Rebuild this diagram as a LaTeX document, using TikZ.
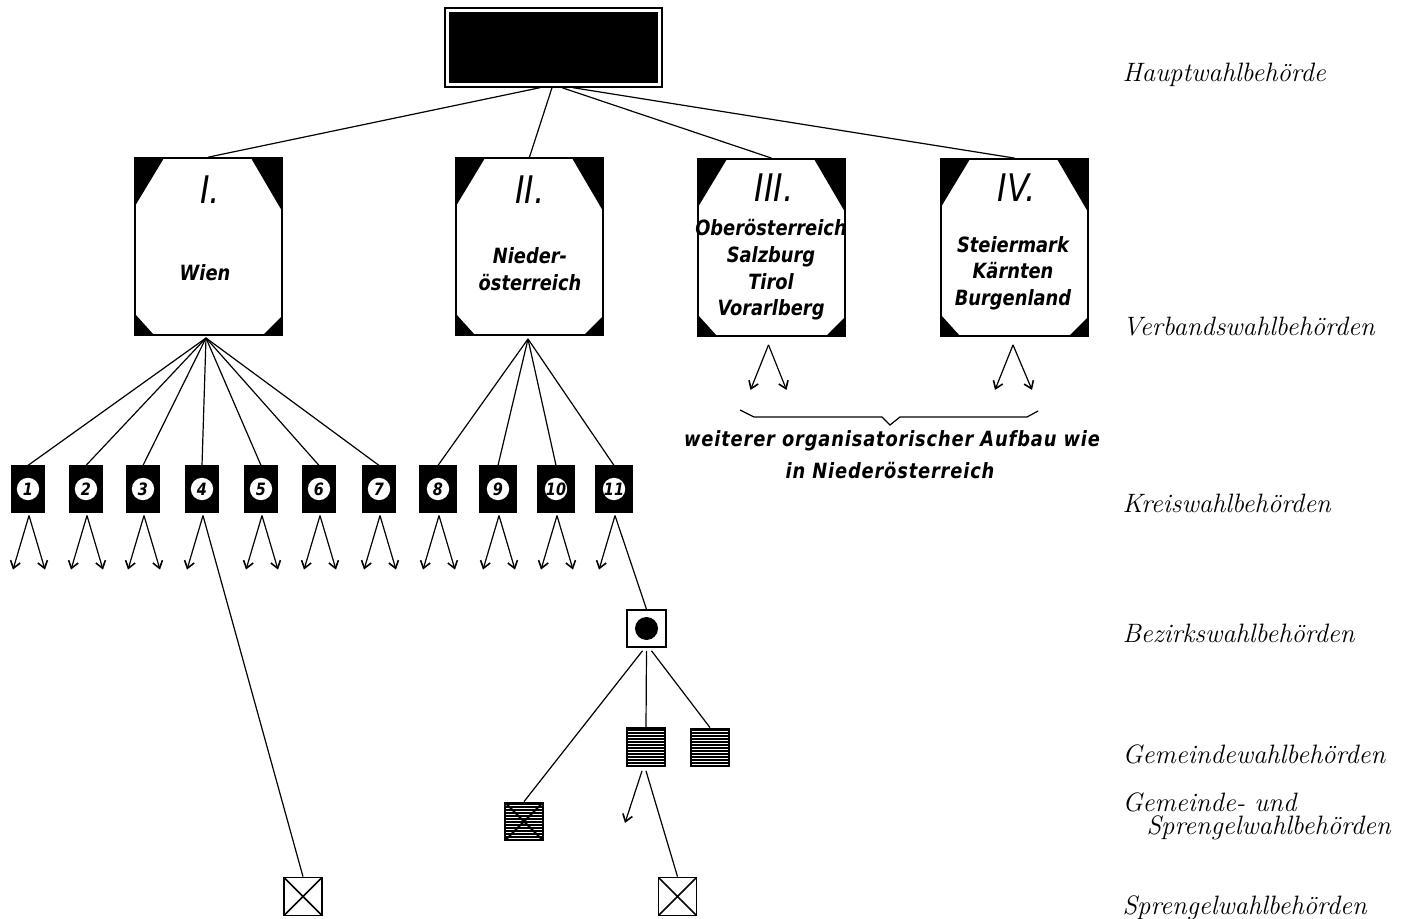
\documentclass[tikz,border=0pt]{standalone}
\usepackage{fontspec}
\usetikzlibrary{arrows.meta,calc}
\newfontfamily\hand[FakeStretch=0.85]{DejaVu Sans}
\tikzset{
  frame/.style={draw, line width=0.9pt, minimum width=73.5pt, minimum height=88.5pt, inner sep=0pt,
    path picture={
      \fill (path picture bounding box.north west) -- ++(29,0) -- ++(-29,48) -- cycle;
      \fill (path picture bounding box.north east) -- ++(-31,0) -- ++(31,53) -- cycle;
      \fill (path picture bounding box.south west) -- ++(19,0) -- ++(-19,-21) -- cycle;
      \fill (path picture bounding box.south east) -- ++(-19,0) -- ++(19,-19) -- cycle;
    }},
  topbox/.style={draw, line width=0.7pt, minimum width=108.5pt, minimum height=39.5pt, inner sep=0pt,
    path picture={
      \fill ([shift={(4,4)}]path picture bounding box.north west) rectangle ([shift={(-4,-4)}]path picture bounding box.south east);
    }},
  kreis/.style={fill=black, draw, minimum width=16pt, minimum height=23pt, inner sep=0pt,
    font=\hand\bfseries\itshape\fontsize{8.5}{9}\selectfont,
    path picture={\fill[white] (path picture bounding box.center) circle (5.6pt);}},
  kreisw/.style={kreis, minimum width=18pt},
  bezirk/.style={draw, line width=0.8pt, minimum width=19.5pt, minimum height=18.5pt, inner sep=0pt,
    path picture={\fill (path picture bounding box.center) circle (5.75pt);}},
  hatch/.style={draw, line width=0.9pt, minimum width=19pt, minimum height=19pt, inner sep=0pt,
    path picture={
      \foreach \yy in {1.5,4.5,...,40} \draw[line width=1pt] ($(path picture bounding box.north west)+(0,\yy)$) -- ++(60,0);
    }},
  crossbox/.style={draw, line width=0.9pt, minimum width=19pt, minimum height=19pt, inner sep=0pt,
    path picture={
      \draw[line width=0.8pt] (path picture bounding box.north west) -- (path picture bounding box.south east)
        (path picture bounding box.north east) -- (path picture bounding box.south west);
    }},
  hatchcross/.style={hatch, path picture={
      \foreach \yy in {1.5,4.5,...,40} \draw[line width=1pt] ($(path picture bounding box.north west)+(0,\yy)$) -- ++(60,0);
      \draw[line width=0.9pt] (path picture bounding box.north west) -- (path picture bounding box.south east)
        (path picture bounding box.north east) -- (path picture bounding box.south west);
    }},
  numf/.style={font=\hand\itshape\fontsize{19}{20}\selectfont, inner sep=0pt},
  hw/.style={font=\hand\bfseries\itshape\fontsize{10.5}{13.3}\selectfont, inner sep=0pt, align=center},
  hwsp/.style={hw, font=\hand\bfseries\itshape\fontsize{10.5}{13.3}\selectfont\addfontfeatures{LetterSpace=4}},
  lab/.style={anchor=west, inner sep=0pt, font=\fontsize{13.3}{16}\selectfont\itshape\addfontfeatures{FakeBold=0.4}, align=left},
  arr/.style={-{Straight Barb[length=3.5pt,width=5pt,line width=0.8pt]}},
}
\begin{document}
\begin{tikzpicture}[x=0.5pt,y=-0.5pt,line width=0.6pt]
\useasboundingbox (0,0) rectangle (1419,919);

% top
\node[topbox] (top) at (553.5,47.5) {};

% Verband boxes
\node[frame] (bI) at (208.5,246.5) {};
\node[frame] (bII) at (529.5,246.5) {};
\node[frame] (bIII) at (771.5,247.5) {};
\node[frame] (bIV) at (1014.5,247.5) {};

\node[numf] (nI) at (210,190) {I.};
\node[numf] (nII) at (530,190) {II.};
\node[numf] (nIII) at (774,188) {III.};
\node[numf] (nIV) at (1017,188) {IV.};

\node[hw] (tI) at (205,273) {Wien};
\node[hw] (tII) at (530,269) {Nieder-\\österreich};
\node[hw] (tIII) at (771,270) {Oberösterreich\\Salzburg\\Tirol\\Vorarlberg};
\node[hw] (tIV) at (1013,273) {Steiermark\\Kärnten\\Burgenland};

\draw ([xshift=-6.75pt]top.south) -- (bI.north);
\draw ([xshift=-0.75pt]top.south) -- (bII.north);
\draw ([xshift=4.25pt]top.south) -- (bIII.north);
\draw ([xshift=9.75pt]top.south) -- (bIV.north);

% Kreis squares
\node[kreis] (k1) at (28,489) {1};
\node[kreis] (k2) at (86,489) {2};
\node[kreis] (k3) at (143,489) {3};
\node[kreis] (k4) at (202,489) {4};
\node[kreis] (k5) at (261,489) {5};
\node[kreis] (k6) at (319,489) {6};
\node[kreis] (k7) at (379,489) {7};
\node[kreisw] (k8) at (438,489) {8};
\node[kreisw] (k9) at (498,489) {9};
\node[kreisw] (k10) at (556,489) {10};
\node[kreisw] (k11) at (614,489) {11};

\coordinate (fI) at (206,338);
\coordinate (fII) at (528,339);
\foreach \i in {1,...,7} \draw (fI) -- (k\i.north);
\foreach \i in {8,...,11} \draw (fII) -- (k\i.north);

\foreach \i in {1,2,3,5,6,7,8,9,10} {
  \draw[arr] ($(k\i.south)+(1,3)$) -- ($(k\i.south)+(-15,57)$);
  \draw[arr] ($(k\i.south)+(1,3)$) -- ($(k\i.south)+(17,57)$);
}
\draw[arr] ($(k4.south)+(1,3)$) -- ($(k4.south)+(-15,57)$);
\draw[arr] ($(k11.south)+(1,3)$) -- ($(k11.south)+(-15,57)$);

% III and IV arrows
\draw[arr] ($(bIII.south)+(-3,8)$) -- ($(bIII.south)+(-21,53)$);
\draw[arr] ($(bIII.south)+(-3,8)$) -- ($(bIII.south)+(15,53)$);
\draw[arr] ($(bIV.south)+(-1.5,8)$) -- ($(bIV.south)+(-19.5,53)$);
\draw[arr] ($(bIV.south)+(-1.5,8)$) -- ($(bIV.south)+(17.5,53)$);

% brace
\coordinate (bA) at (740,410);
\coordinate (bB) at (754,417);
\coordinate (bC) at (882,417);
\coordinate (bD) at (890,425);
\coordinate (bE) at (900,417);
\coordinate (bF) at (1027,417);
\coordinate (bG) at (1038,411);
\draw (bA) -- (bB) -- (bC) -- (bD) -- (bE) -- (bF) -- (bG);
\node[hwsp] (w1) at (892,441) {weiterer organisatorischer Aufbau wie};
\node[hwsp] (w2) at (890,471) {in Niederösterreich};

% lower levels
\node[bezirk] (bz) at (646.5,628.5) {};
\node[hatch] (gm) at (646,747) {};
\node[hatch] (gr) at (710,747.5) {};
\node[hatchcross] (gs) at (524,821.5) {};
\node[crossbox] (sp1) at (303,896.5) {};
\node[crossbox] (sp2) at (677.5,896.5) {};

\draw ($(k4.south)+(1,3)$) -- (sp1.north);
\draw ($(k11.south)+(1,3)$) -- (bz.north);
\draw ($(bz.south)+(-4,3)$) -- (gs.north);
\draw ($(bz.south)+(0,3)$) -- (gm.north);
\draw ($(bz.south)+(5,3)$) -- (gr.north);
\draw[arr] ($(gm.south)+(-4,4)$) -- ($(gm.south)+(-21,56)$);
\draw ($(gm.south)+(0,4)$) -- (sp2.north);

% right labels
\node[lab] (l1) at (1122,75) {Hauptwahlbehörde};
\node[lab] (l2) at (1122,327) {Verbandswahlbehörden};
\node[lab] (l3) at (1122,503) {Kreiswahlbehörden};
\node[lab] (l4) at (1122,633) {Bezirkswahlbehörden};
\node[lab] (l5) at (1122,754) {Gemeindewahlbehörden};
\node[lab] (l6) at (1122,802) {Gemeinde- und};
\node[lab] (l7) at (1146,828) {Sprengelwahlbehörden};
\node[lab] (l8) at (1122,908) {Sprengelwahlbehörden};
\end{tikzpicture}
\end{document}
